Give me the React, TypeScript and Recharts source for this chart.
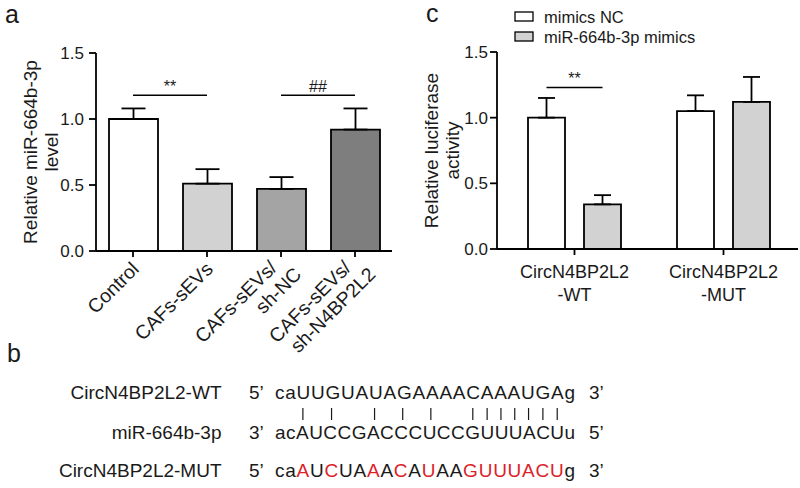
import React from "react";
import {
	BarChart,
	Bar,
	XAxis,
	YAxis,
	ErrorBar,
	ReferenceLine,
	Legend,
	Label,
	Cell,
} from "recharts";

// panel a: relative miR-664b-3p level
const groupsA = ["Control", "CAFs-sEVs", "CAFs-sEVs/sh-NC", "CAFs-sEVs/sh-N4BP2L2"];
const levelA = [1.0, 0.51, 0.47, 0.92];
const sdA = [0.08, 0.11, 0.09, 0.16];
const sigA = [
	{ from: "Control", to: "CAFs-sEVs", mark: "**" },
	{ from: "CAFs-sEVs/sh-NC", to: "CAFs-sEVs/sh-N4BP2L2", mark: "##" },
];
const sigLevelA = 1.18;

// panel c: luciferase reporter
const groupsC = ["CircN4BP2L2-WT", "CircN4BP2L2-MUT"];
const seriesC = ["mimics NC", "miR-664b-3p mimics"];
const mimicsNC = [1.0, 1.05];
const mimicsNCsd = [0.15, 0.12];
const mimics664 = [0.34, 1.12];
const mimics664sd = [0.07, 0.19];
const sigLevelC = 1.23;

const yTicks = [0, 0.5, 1.0, 1.5];

// panel b: binding site
const rowNames = ["CircN4BP2L2-WT", "miR-664b-3p", "CircN4BP2L2-MUT"];
const rowEnds = [
	["5\u2019", "3\u2019"],
	["3\u2019", "5\u2019"],
	["5\u2019", "3\u2019"],
];
const wtSeq = "caUUGUAUAGAAAACAAAUGAg";
const mirSeq = "acAUCCGACCCUCCGUUUACUu";
const mutSeq = "caAUCUAAACAUAAGUUUACUg";

const FONT = '"Liberation Sans", Arial, Helvetica, sans-serif';
const INK = "#1a1a1a";
const FILLS_A = ["#ffffff", "#d2d2d2", "#a4a4a4", "#7e7e7e"];
const FILL_NC = "#ffffff";
const FILL_MIM = "#d2d2d2";
const RED = "#dc2228";
const BAR_GAP_C = 19;

const dataA = groupsA.map((name, i) => ({
	name,
	value: levelA[i],
	err: [0, sdA[i]],
}));

const dataC = groupsC.map((name, i) => ({
	name,
	nc: mimicsNC[i],
	ncErr: [0, mimicsNCsd[i]],
	mim: mimics664[i],
	mimErr: [0, mimics664sd[i]],
}));

const axisStyle = { stroke: "#000", strokeWidth: 1.8 };

function YTitle({ viewBox, lines, xs }: any) {
	const cy = viewBox.y + viewBox.height / 2;
	return (
		<g>
			{lines.map((t: string, i: number) => (
				<text
					key={t}
					transform={`translate(${xs[i]},${cy}) rotate(-90)`}
					textAnchor="middle"
					fontSize={19}
					fill={INK}
				>
					{t}
				</text>
			))}
		</g>
	);
}

function RotTickA({ x, y, payload }: any) {
	const label: string = payload.value;
	const cut = label.indexOf("/");
	const lines = cut < 0 ? [label] : [label.slice(0, cut + 1), label.slice(cut + 1)];
	const spots = lines.length === 1 ? [[-3, 13]] : [[-9, 5], [3.5, 27]];
	return (
		<g transform={`translate(${x},${y}) rotate(-45)`}>
			{lines.map((t, i) => (
				<text key={t} x={spots[i][0]} y={spots[i][1]} textAnchor="end" fontSize={19.5} fill={INK}>
					{t}
				</text>
			))}
		</g>
	);
}

function TickC({ x, y, payload }: any) {
	const label: string = payload.value;
	const cut = label.indexOf("-");
	return (
		<text x={x} y={y} textAnchor="middle" fontSize={18} fill={INK}>
			<tspan x={x} dy={21}>
				{label.slice(0, cut)}
			</tspan>
			<tspan x={x} dy={23.4}>
				{label.slice(cut)}
			</tspan>
		</text>
	);
}

function SigC(props: any) {
	const vb = props.viewBox ?? props;
	const first = props.index !== undefined ? props.index === 0 : props.value === mimicsNC[0];
	if (!first || !vb || !props.value) return null;
	const base = vb.y + vb.height;
	const ly = base - (sigLevelC * vb.height) / props.value;
	const x1 = vb.x + vb.width / 2;
	const x2 = x1 + vb.width + BAR_GAP_C;
	return (
		<g>
			<line x1={x1} x2={x2} y1={ly} y2={ly} stroke="#000" strokeWidth={1.5} />
			<text x={(x1 + x2) / 2} y={ly - 3} textAnchor="middle" fontSize={16} fill={INK}>
				**
			</text>
		</g>
	);
}

function LegendC({ payload }: any) {
	const items = [...(payload || [])].sort(
		(a: any, b: any) => seriesC.indexOf(a.value) - seriesC.indexOf(b.value),
	);
	return (
		<svg width={220} height={48} style={{ display: "block" }}>
			{items.map((item: any, i: number) => (
				<g key={item.value}>
					<rect
						x={5}
						y={8 + i * 20}
						width={18}
						height={9}
						fill={item.color}
						stroke="#000"
						strokeWidth={1.3}
					/>
					<text x={34} y={18.5 + i * 20} fontSize={16.5} fill={INK} fontFamily={FONT}>
						{item.value}
					</text>
				</g>
			))}
		</svg>
	);
}

// sequence layout for panel b
const SEQ_X = 275;
const SEQ_W = 300;
const SEQ_FS = 19;

function seqLayout(seq: string) {
	const ctx = document.createElement("canvas").getContext("2d")!;
	ctx.font = `${SEQ_FS}px "Liberation Sans"`;
	const natural = ctx.measureText(seq).width;
	const ls = (SEQ_W - natural) / (seq.length - 1);
	let acc = 0;
	const centers = seq.split("").map((ch) => {
		const w = ctx.measureText(ch).width;
		const c = SEQ_X + acc + w / 2;
		acc += w + ls;
		return c;
	});
	return { ls, centers };
}

const pairs: Record<string, string> = { AU: "1", UA: "1", GC: "1", CG: "1" };

function PanelB() {
	const seqs = [wtSeq, mirSeq, mutSeq];
	const lay = seqs.map(seqLayout);
	const baselines = [399, 438.5, 477];
	const bars: number[] = [];
	for (let i = 0; i < wtSeq.length; i++) {
		const a = wtSeq[i];
		const b = mirSeq[i];
		if (a === a.toUpperCase() && b === b.toUpperCase() && pairs[a + b]) {
			bars.push((lay[0].centers[i] + lay[1].centers[i]) / 2);
		}
	}
	return (
		<g fontSize={SEQ_FS} fill={INK}>
			{rowNames.map((name, r) => (
				<g key={name}>
					<text x={221.5} y={baselines[r]} textAnchor="end">
						{name}
					</text>
					<text x={249} y={baselines[r]}>
						{rowEnds[r][0]}
					</text>
					<text x={SEQ_X} y={baselines[r]} style={{ letterSpacing: lay[r].ls }}>
						{seqs[r].split("").map((ch, i) => (
							<tspan key={i} fill={r === 2 && ch !== wtSeq[i] ? RED : INK}>
								{ch}
							</tspan>
						))}
					</text>
					<text x={589} y={baselines[r]}>
						{rowEnds[r][1]}
					</text>
				</g>
			))}
			{bars.map((bx, i) => (
				<line key={i} x1={bx} x2={bx} y1={408} y2={420} stroke={INK} strokeWidth={1.2} />
			))}
		</g>
	);
}

export default function App() {
	return (
		<div
			style={{
				position: "absolute",
				left: 0,
				top: 0,
				width: 800,
				height: 488,
				background: "#fff",
				fontFamily: FONT,
				overflow: "hidden",
			}}
		>
			<div style={{ position: "absolute", left: 0, top: 0 }}>
				<BarChart
					width={400}
					height={400}
					data={dataA}
					margin={{ top: 53, right: 8, bottom: 0, left: 0 }}
					barSize={49}
				>
					<XAxis
						dataKey="name"
						interval={0}
						height={149}
						tickSize={6}
						axisLine={axisStyle}
						tickLine={axisStyle}
						tick={(p: any) => <RotTickA {...p} />}
					/>
					<YAxis
						domain={[0, 1.5]}
						ticks={yTicks}
						allowDataOverflow
						tickFormatter={(v: number) => v.toFixed(1)}
						width={96}
						tickSize={7}
						tickMargin={5}
						axisLine={axisStyle}
						tickLine={axisStyle}
						tick={{ fontSize: 17, fill: INK }}
						label={
							<Label
								content={(p: any) => (
									<YTitle viewBox={p.viewBox} lines={["Relative miR-664b-3p", "level"]} xs={[36.5, 57.5]} />
								)}
							/>
						}
					/>
					<Bar dataKey="value" stroke="#000" strokeWidth={1.8} isAnimationActive={false}>
						{dataA.map((d, i) => (
							<Cell key={d.name} fill={FILLS_A[i]} />
						))}
						<ErrorBar dataKey="err" width={12} stroke="#000" strokeWidth={1.8} direction="y" />
					</Bar>
					{sigA.map((s) => (
						<ReferenceLine
							key={s.mark}
							segment={[
								{ x: s.from, y: sigLevelA },
								{ x: s.to, y: sigLevelA },
							]}
							stroke="#000"
							strokeWidth={1.5}
							label={{ value: s.mark, position: "top", offset: 3, fontSize: 16, fill: INK }}
						/>
					))}
				</BarChart>
			</div>
			<div style={{ position: "absolute", left: 400, top: 0 }}>
				<BarChart
					width={400}
					height={320}
					data={dataC}
					margin={{ top: 52, right: 2, bottom: 0, left: 0 }}
					barSize={37}
					barGap={BAR_GAP_C}
				>
					<XAxis
						dataKey="name"
						interval={0}
						height={71}
						tickSize={6}
						padding={{ left: 3, right: 0 }}
						axisLine={axisStyle}
						tickLine={axisStyle}
						tick={(p: any) => <TickC {...p} />}
					/>
					<YAxis
						domain={[0, 1.5]}
						ticks={yTicks}
						allowDataOverflow
						tickFormatter={(v: number) => v.toFixed(1)}
						width={97}
						tickSize={7}
						tickMargin={2}
						axisLine={axisStyle}
						tickLine={axisStyle}
						tick={{ fontSize: 17, fill: INK }}
						label={
							<Label
								content={(p: any) => (
									<YTitle viewBox={p.viewBox} lines={["Relative luciferase", "activity"]} xs={[38.3, 58.5]} />
								)}
							/>
						}
					/>
					<Legend
						layout="vertical"
						verticalAlign="middle"
						align="center"
						wrapperStyle={{ left: 110, top: 4 }}
						content={(p: any) => <LegendC payload={p.payload} />}
					/>
					<Bar
						dataKey="nc"
						name={seriesC[0]}
						fill={FILL_NC}
						stroke="#000"
						strokeWidth={1.8}
						isAnimationActive={false}
						label={SigC}
					>
						<ErrorBar dataKey="ncErr" width={8.5} stroke="#000" strokeWidth={1.8} direction="y" />
					</Bar>
					<Bar
						dataKey="mim"
						name={seriesC[1]}
						fill={FILL_MIM}
						stroke="#000"
						strokeWidth={1.8}
						isAnimationActive={false}
					>
						<ErrorBar dataKey="mimErr" width={8.5} stroke="#000" strokeWidth={1.8} direction="y" />
					</Bar>
				</BarChart>
			</div>
			<svg
				width={800}
				height={488}
				style={{ position: "absolute", left: 0, top: 0, pointerEvents: "none" }}
			>
				<g fontSize={25} fill={INK}>
					<text x={5} y={23}>
						a
					</text>
					<text x={426} y={22}>
						c
					</text>
					<text x={7} y={361.7}>
						b
					</text>
				</g>
				<PanelB />
			</svg>
		</div>
	);
}
